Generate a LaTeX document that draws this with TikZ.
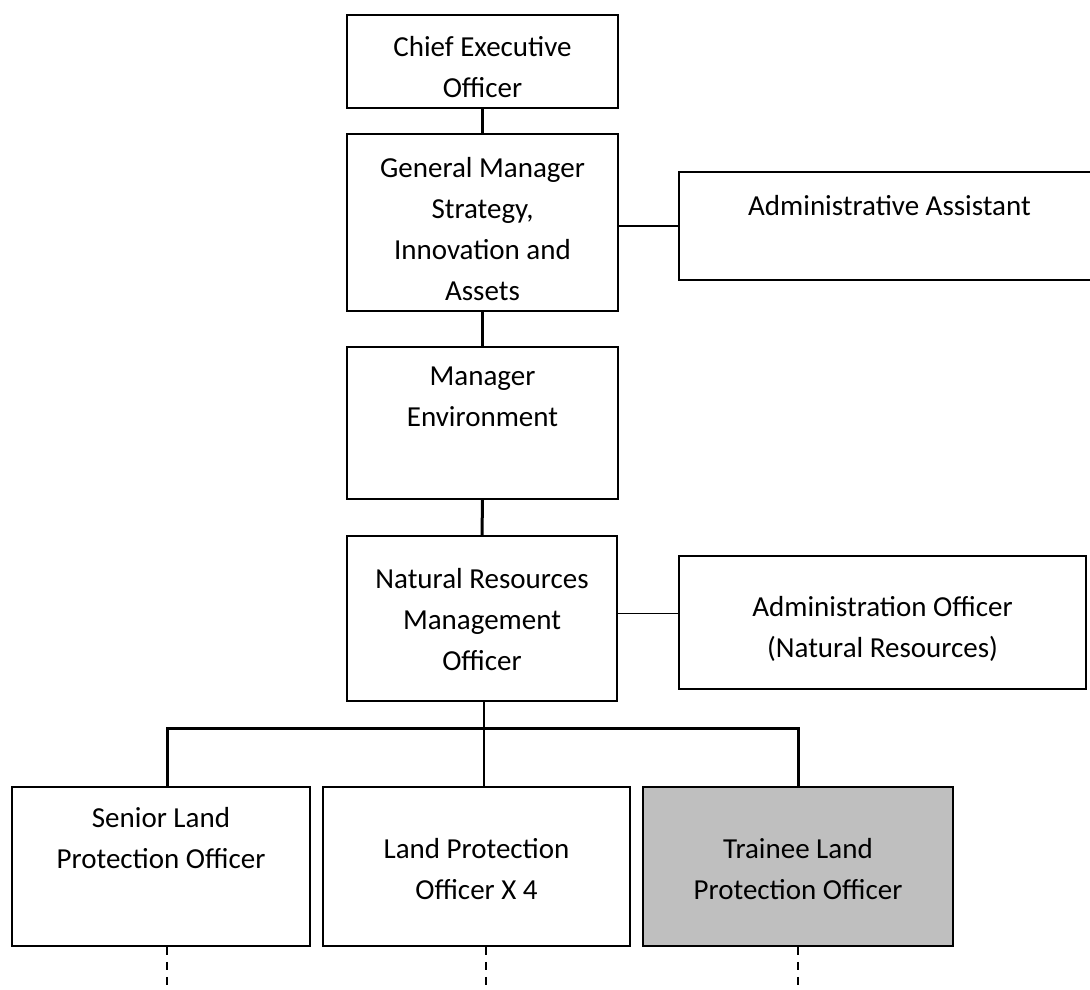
\documentclass[tikz,border=0pt]{standalone}
\usepackage{fontspec}
\setmainfont{Carlito}

\begin{document}
\begin{tikzpicture}[x=1pt, y=-1pt,
  box/.style={draw, line width=1.8pt, anchor=north, align=center, inner sep=0pt,
    font=\fontsize{29}{41}\selectfont},
  heavy/.style={line width=3pt},
  light/.style={line width=1.6pt},
  dotted link/.style={line width=1.3pt, dash pattern=on 8pt off 7pt}]
  \useasboundingbox (0,0) rectangle (1090,989);
  % upper chain
  \node[box, minimum width=271pt, text height=83pt, text depth=10pt] (ceo) at (482.5,14) {Chief Executive\\Officer};
  \node[box, minimum width=271pt, text height=167pt, text depth=10pt] (gm) at (482.5,133) {General Manager\\Strategy,\\Innovation and\\Assets};
  \node[box, minimum width=421pt, text height=44pt, text depth=64pt] (aa) at (889.5,171) {Administrative Assistant};
  \node[box, minimum width=271pt, text height=80pt, text depth=72pt] (me) at (482.5,346) {Manager\\Environment};
  \node[box, minimum width=270pt, text height=135pt, text depth=30pt] (nrmo) at (482,535) {Natural Resources\\Management\\Officer};
  \node[box, minimum width=407pt, text height=102pt, text depth=31pt] (ao) at (882.5,555) {Administration Officer\\(Natural Resources)};
  % bottom row
  \node[box, minimum width=298pt, text height=82pt, text depth=77pt] (slo) at (161,786) {Senior Land\\Protection Officer};
  \node[box, minimum width=307pt, text height=113pt, text depth=46pt] (lpo) at (476.5,786) {Land Protection\\Officer X 4};
  \node[box, minimum width=310pt, text height=113pt, text depth=46pt, fill=black!25] (tlpo) at (798,786) {Trainee Land\\Protection Officer};
  \coordinate (bus) at (484,728);
  \coordinate (sloend) at (167,989);
  \coordinate (lpoend) at (486,989);
  \coordinate (tlpoend) at (798,989);

  \draw[heavy] (ceo.south) -- (gm.north);
  \draw[heavy] (gm.south) -- (me.north);
  \draw[heavy] (me.south) -- (nrmo.north);
  \draw[light] (aa.west) -- (aa.west -| gm.east);
  \draw[light] ([yshift=9pt]ao.west) -- ([yshift=9pt]ao.west -| nrmo.east);
  \draw[light] (nrmo.south -| bus) -- (bus |- lpo.north);
  \draw[heavy] (sloend |- slo.north) |- (bus) -| (tlpo.north);
  \draw[dotted link] (sloend |- slo.south) -- (sloend);
  \draw[dotted link] (lpoend |- lpo.south) -- (lpoend);
  \draw[dotted link] (tlpo.south) -- (tlpoend);
\end{tikzpicture}
\end{document}
